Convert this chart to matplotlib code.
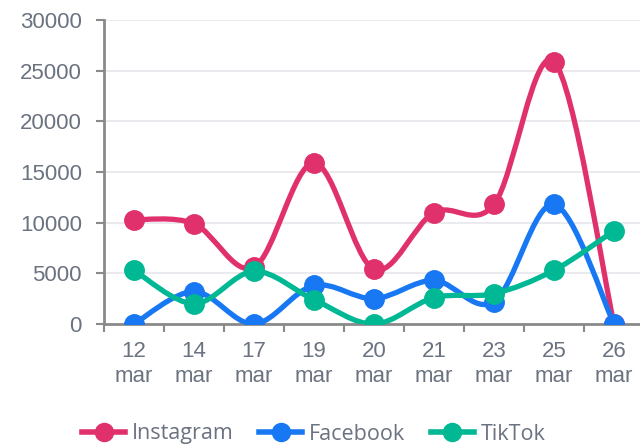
import numpy as np
import matplotlib
matplotlib.use("Agg")
import matplotlib.pyplot as plt
from matplotlib.path import Path
from matplotlib.patches import PathPatch
from matplotlib.lines import Line2D

# data
days = ["12\nmar", "14\nmar", "17\nmar", "19\nmar", "20\nmar",
        "21\nmar", "23\nmar", "25\nmar", "26\nmar"]
instagram = [10300, 9900, 5600, 15900, 5400, 11000, 11800, 25900, 0]
facebook = [0, 3200, 0, 3800, 2500, 4300, 2200, 11800, 0]
tiktok = [5300, 2000, 5200, 2400, 0, 2600, 3000, 5300, 9200]

series = [("Instagram", instagram, "#e0316d"),
          ("Facebook", facebook, "#1877f2"),
          ("TikTok", tiktok, "#00b893")]

text_col = "#6b7280"
axis_col = "#8a8a8a"


def smooth_path(xs, ys):
    # cubic bezier through every point (catmull-rom style handles)
    pts = np.column_stack([xs, ys]).astype(float)
    n = len(pts)
    verts = [pts[0]]
    codes = [Path.MOVETO]
    for i in range(n - 1):
        p0 = pts[max(i - 1, 0)]
        p1 = pts[i]
        p2 = pts[i + 1]
        p3 = pts[min(i + 2, n - 1)]
        c1 = p1 + (p2 - p0) / 6.0
        c2 = p2 - (p3 - p1) / 6.0
        verts += [c1, c2, p2]
        codes += [Path.CURVE4] * 3
    return Path(verts, codes)


fig = plt.figure(figsize=(6.4, 4.47), dpi=100)
ax = fig.add_axes([104 / 640, 123 / 447, 540 / 640, 304 / 447])

x = np.arange(len(days))
for name, vals, col in series:
    ax.add_patch(PathPatch(smooth_path(x, vals), facecolor="none",
                           edgecolor=col, lw=3.8, capstyle="round",
                           joinstyle="round", zorder=3))
    ax.plot(x, vals, ls="none", marker="o", ms=14, color=col, zorder=4)

ax.set_xlim(-0.5, len(days) - 0.5)
ax.set_ylim(0, 30000)
ax.set_yticks(np.arange(0, 30001, 5000))
ax.set_xticks(x)
ax.set_xticklabels(days, fontsize=16, color=text_col,
                   family="Liberation Sans", linespacing=1.25)
ax.set_xticks(np.arange(-0.5, len(days), 1), minor=True)
for lab in ax.get_yticklabels():
    lab.set_fontsize(16)
    lab.set_color(text_col)
    lab.set_family("Liberation Sans")

ax.tick_params(axis="x", which="major", length=0, pad=12)
ax.tick_params(axis="x", which="minor", length=6, width=1.5, color=axis_col)
ax.tick_params(axis="y", length=6, width=1.5, color=axis_col, pad=10)

ax.grid(axis="y", color="#e6e6ec", lw=1.2)
ax.set_axisbelow(True)
for s in ["top", "right"]:
    ax.spines[s].set_visible(False)
for s in ["left", "bottom"]:
    ax.spines[s].set_color(axis_col)
    ax.spines[s].set_linewidth(2)

handles = [Line2D([], [], color=c, lw=4, marker="o", ms=13) for _, _, c in series]
fig.legend(handles, [n for n, _, _ in series], loc="center",
           bbox_to_anchor=(0.49, 13 / 447), ncol=3, frameon=False,
           handlelength=2.0, handletextpad=0.3, columnspacing=1.2,
           prop={"family": "Open Sans", "size": 15.5}, labelcolor=text_col)

fig.savefig("out.png", dpi=100)
